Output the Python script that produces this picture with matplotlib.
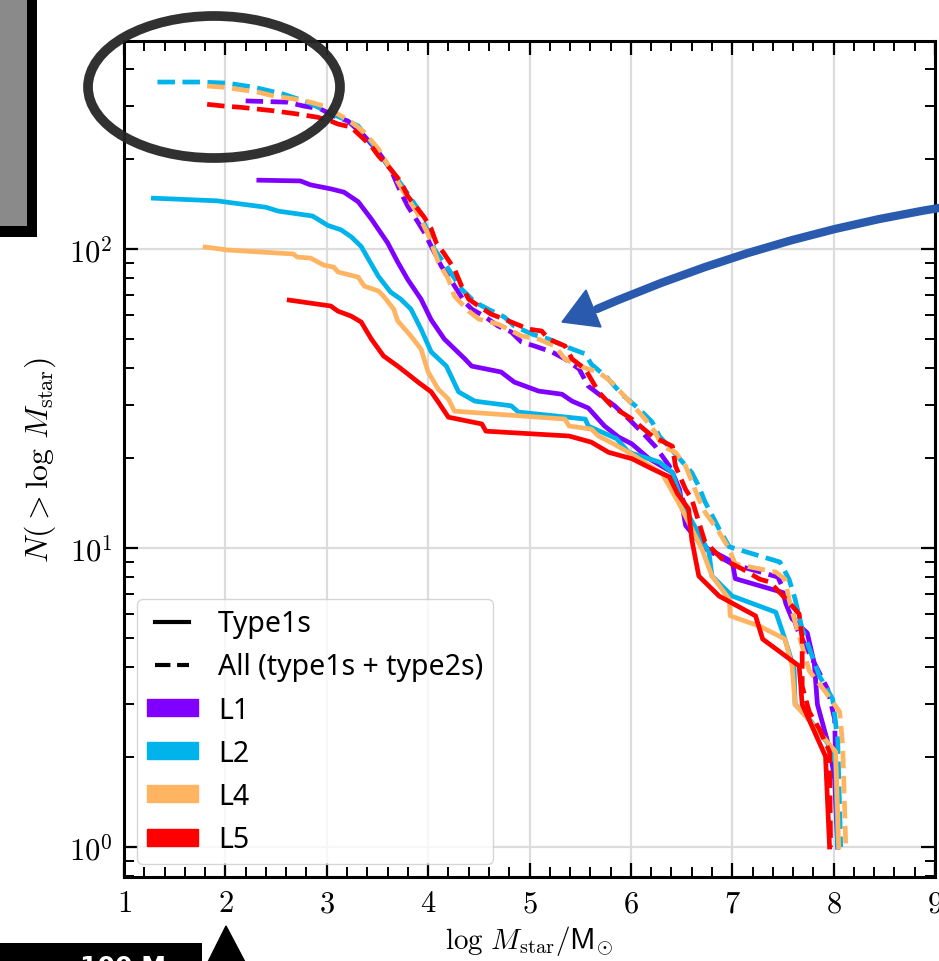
import numpy as np
import matplotlib
matplotlib.use("Agg")
import matplotlib.pyplot as plt
from matplotlib.lines import Line2D
from matplotlib.patches import Patch, Ellipse, Rectangle, Polygon, PathPatch
from matplotlib.path import Path
from matplotlib.ticker import FuncFormatter, MultipleLocator, LogLocator, NullFormatter

plt.rcParams['mathtext.fontset'] = 'cm'

# ---------------- data ----------------
levels = ['L1', 'L2', 'L4', 'L5']
colors = ['#8000FF', '#00B4EB', '#FFB462', '#FF0000']

# Type1s (solid)
L1_type1_x = [2.33, 2.74, 2.84, 3.04, 3.17, 3.31, 3.44, 3.60, 3.70, 3.80, 3.93, 4.03, 4.16, 4.36, 4.43,
              4.72, 4.85, 5.09, 5.32, 5.42, 5.58, 5.74, 5.88, 6.01, 6.18, 6.41, 6.48, 6.54, 6.70, 7.00,
              7.03, 7.50, 7.53, 7.59, 7.74, 7.81, 7.84, 7.96, 8.01, 8.04]
L1_type1_n = [170, 169, 164, 159, 155, 144, 126, 105, 90.5, 79, 68, 58, 50, 43, 40.6,
              38.8, 35.9, 33.5, 32.7, 31, 29.4, 25.6, 23.5, 22.3, 19.9, 17.9, 15.7, 11.9, 10.2, 9.0,
              7.9, 7.1, 6.5, 5.8, 5.2, 4.1, 3.0, 2.13, 1.69, 1.0]

L2_type1_x = [1.29, 1.92, 2.05, 2.40, 2.52, 2.86, 3.01, 3.14, 3.24, 3.34, 3.41, 3.51, 3.63, 3.73, 3.83,
              3.93, 4.03, 4.18, 4.30, 4.46, 4.82, 4.89, 5.55, 5.58, 5.86, 5.98, 6.28, 6.41, 6.51, 6.77,
              6.80, 7.00, 7.43, 7.52, 7.61, 7.62, 7.76, 7.96, 8.02, 8.04]
L2_type1_n = [148, 145, 143, 138, 134, 129, 120, 116, 110, 102, 92.7, 81, 71.8, 68, 63,
              54, 45.3, 40.6, 33.3, 31, 29.9, 28.5, 27, 25.6, 23.2, 20.9, 19.4, 17.9, 14, 9.7,
              8.06, 6.91, 6.1, 4.96, 3.94, 3.0, 2.68, 2.18, 1.9, 1.0]

L4_type1_x = [1.80, 2.02, 2.67, 2.71, 2.84, 2.97, 3.07, 3.11, 3.31, 3.37, 3.51, 3.56, 3.66, 3.70, 3.83,
              3.93, 4.00, 4.10, 4.20, 4.26, 5.35, 5.39, 5.61, 5.68, 5.83, 6.01, 6.16, 6.31, 6.48, 6.70,
              6.80, 6.97, 6.98, 7.27, 7.52, 7.59, 7.62, 7.79, 8.02, 8.05]
L4_type1_n = [101.6, 99.3, 96.3, 94, 93.3, 88.4, 87, 83.8, 80.6, 75.2, 72.4, 69.6, 63, 57.5, 51.2,
              46.3, 38.8, 34, 31.5, 28.7, 27, 25.6, 25, 23.7, 22.3, 20.6, 19.1, 17.7, 14, 9.93,
              8.06, 6.75, 5.93, 5.48, 4.96, 4.03, 3.0, 2.58, 2.08, 1.0]

L5_type1_x = [2.63, 3.04, 3.11, 3.24, 3.34, 3.44, 3.56, 3.70, 3.80, 3.90, 4.03, 4.10, 4.20, 4.53, 4.57,
              5.39, 5.61, 5.78, 6.01, 6.21, 6.38, 6.46, 6.57, 6.60, 6.67, 6.87, 7.23, 7.30, 7.66, 7.69,
              7.92, 7.96]
L5_type1_n = [67.5, 64.5, 62, 59.7, 57, 50, 43.9, 40.6, 38.2, 35.9, 33.3, 30.8, 27.4, 26, 24.6,
              23.7, 22.6, 20.9, 19.9, 18.4, 17.3, 15.2, 13.5, 10.7, 8.06, 6.91, 5.93, 4.96, 4.03, 3.0,
              2.01, 1.0]

# All (type1s + type2s) (dashed)
L1_all_x = [2.20, 2.61, 2.77, 2.94, 3.07, 3.21, 3.37, 3.51, 3.63, 3.73, 3.80, 3.90, 3.96, 4.06, 4.13,
            4.23, 4.36, 4.43, 4.55, 4.69, 4.82, 4.92, 5.05, 5.22, 5.35, 5.49, 5.58, 5.71, 5.84, 5.98,
            6.11, 6.24, 6.38, 6.51, 6.60, 6.70, 7.00, 7.45, 7.55, 7.64, 7.79, 7.94, 8.01, 8.04]
L1_all_n = [313, 310, 301, 294, 279, 268, 239, 211, 185, 155, 139, 123, 114, 97.7, 87.7,
            78.2, 66.5, 63, 59.7, 55.3, 52.8, 48.9, 47.4, 45.3, 42.9, 39.7, 34.8, 32.2, 29.9, 27,
            24.4, 21.9, 18.8, 14.6, 11.6, 10.1, 8.84, 8.0, 6.75, 5.36, 4.25, 3.38, 2.68, 1.0]

L2_all_x = [1.33, 1.75, 2.02, 2.28, 2.57, 2.81, 2.97, 3.17, 3.31, 3.44, 3.56, 3.70, 3.80, 3.90, 4.00,
            4.06, 4.20, 4.33, 4.46, 4.59, 4.75, 4.85, 5.02, 5.19, 5.37, 5.55, 5.61, 5.76, 5.91, 6.08,
            6.21, 6.28, 6.48, 6.60, 6.67, 6.73, 6.87, 6.97, 7.47, 7.56, 7.62, 7.69, 7.86, 7.99, 8.04,
            8.07]
L2_all_n = [362, 362, 359, 348, 330, 310, 292, 272, 258, 228, 200, 171, 153, 136, 114,
            100, 85.7, 73.5, 66.5, 63, 59.3, 55.3, 52, 50, 47, 44.6, 41.2, 37.3, 32.7, 29.2,
            26.4, 23.7, 19.9, 17.9, 16.1, 14.3, 11.6, 10.1, 8.98, 7.87, 6.75, 5.36, 3.73, 3.13, 2.3,
            1.0]

L4_all_x = [1.82, 1.98, 2.32, 2.48, 2.67, 2.84, 2.97, 3.11, 3.24, 3.37, 3.51, 3.63, 3.76, 3.90, 4.00,
            4.10, 4.20, 4.26, 4.40, 4.50, 4.69, 4.79, 4.92, 5.09, 5.25, 5.35, 5.49, 5.68, 5.81, 6.01,
            6.14, 6.24, 6.31, 6.44, 6.54, 6.67, 6.73, 6.87, 6.97, 7.03, 7.43, 7.52, 7.56, 7.59, 7.76,
            7.92, 8.06, 8.09, 8.12]
L4_all_n = [351, 348, 335, 325, 318, 310, 301, 283, 266, 246, 216, 185, 155, 131, 112,
            90.5, 79.4, 69.6, 62, 58.3, 56.1, 54, 51.2, 50, 47.4, 42.9, 40.6, 38.8, 35.9, 30.3,
            27, 24.4, 21.9, 20.9, 18.8, 14.6, 13.2, 11.3, 9.93, 8.84, 8.31, 7.87, 6.75, 6.15, 3.88,
            3.3, 2.83, 2.18, 1.0]

L5_all_x = [1.82, 1.98, 2.15, 2.48, 2.71, 2.91, 3.04, 3.11, 3.24, 3.31, 3.44, 3.51, 3.63, 3.73, 3.80,
            3.90, 3.96, 4.03, 4.08, 4.16, 4.26, 4.33, 4.40, 4.50, 4.62, 4.75, 4.99, 5.12, 5.19, 5.35,
            5.42, 5.55, 5.68, 5.81, 6.01, 6.21, 6.41, 6.44, 6.54, 6.60, 6.73, 6.90, 7.10, 7.27, 7.37,
            7.53, 7.66, 7.69, 7.69, 7.76, 7.86, 7.96, 7.97]
L5_all_n = [305, 301, 298, 290, 283, 276, 268, 262, 256, 243, 221, 205, 185, 168, 150,
            136, 128, 117, 105, 96.3, 85.7, 75.2, 68, 64.5, 60.6, 58.3, 54, 53.2, 50, 47.4,
            42.9, 39.7, 33.3, 29.9, 27, 23.7, 21.9, 18.8, 15.7, 14.6, 10.5, 9.19, 8.51, 7.87, 7.7,
            6.75, 6.02, 4.96, 3.45, 2.83, 2.48, 2.08, 1.0]

type1_series = [(L1_type1_x, L1_type1_n), (L2_type1_x, L2_type1_n),
                (L4_type1_x, L4_type1_n), (L5_type1_x, L5_type1_n)]
all_series = [(L1_all_x, L1_all_n), (L2_all_x, L2_all_n),
              (L4_all_x, L4_all_n), (L5_all_x, L5_all_n)]

legend_labels = ['Type1s', 'All (type1s + type2s)']
x_ticks = [1, 2, 3, 4, 5, 6, 7, 8, 9]

# ---------------- figure ----------------
W, H = 939, 962
fig = plt.figure(figsize=(W / 100, H / 100), dpi=100)

def fx(px):
    return px / W

def fy(py):
    return 1 - py / H

ax = fig.add_axes([fx(124), fy(878), (935 - 124) / W, (878 - 42) / H])

for (xs, ns), (xa, na), c in zip(type1_series, all_series, colors):
    ax.plot(xs, ns, color=c, lw=3.4, ls='-')
    ax.plot(xa, na, color=c, lw=3.4, ls='--')

ax.set_yscale('log')
ax.set_xlim(1, 9)
ax.set_ylim(10 ** -0.1003, 10 ** 2.696)

ax.set_xticks(x_ticks)
ax.xaxis.set_minor_locator(MultipleLocator(0.2))
ax.xaxis.set_major_formatter(FuncFormatter(lambda v, p: r'$%d$' % int(round(v))))
ax.yaxis.set_major_locator(LogLocator(base=10, numticks=10))
ax.yaxis.set_minor_locator(LogLocator(base=10, subs=np.arange(2, 10), numticks=20))
ax.yaxis.set_major_formatter(FuncFormatter(lambda v, p: r'$10^{%d}$' % int(round(np.log10(v)))))
ax.yaxis.set_minor_formatter(NullFormatter())

ax.tick_params(which='both', direction='in', top=True, right=True, labelsize=22)
ax.tick_params(which='major', length=10, width=1.6, pad=8)
ax.tick_params(which='minor', length=7, width=1.4)
for s in ax.spines.values():
    s.set_linewidth(2.2)

ax.grid(True, which='major', color='#dcdcdc', lw=1.6)
ax.set_axisbelow(True)

ax.set_xlabel(r'$\log\,M_{\rm star}/\mathsf{M}_{\odot}$', fontsize=21, labelpad=4)
ax.set_ylabel(r'$N(>\log\,M_{\rm star})$', fontsize=23, labelpad=8)

handles = [Line2D([], [], color='k', lw=3, ls='-'),
           Line2D([], [], color='k', lw=3, ls='--')]
handles += [Patch(facecolor=c, edgecolor=c) for c in colors]
labels = legend_labels + levels
leg = ax.legend(handles, labels, loc='lower left', numpoints=2,
                prop={'family': 'Noto Sans', 'size': 20.5}, borderaxespad=0.45,
                handlelength=1.8, handleheight=0.55, handletextpad=0.7,
                labelspacing=0.5, borderpad=0.35, framealpha=0.8)

# ---------------- slide annotations (overlay) ----------------
# grey box at top-left
fig.patches.append(Rectangle((fx(-20), fy(238)), fx(57), 258 / H, transform=fig.transFigure,
                             facecolor='black', edgecolor='none', zorder=5))
fig.patches.append(Rectangle((fx(-20), fy(227)), fx(47), 247 / H, transform=fig.transFigure,
                             facecolor='#8a8a8a', edgecolor='none', zorder=6))

# hand-drawn ellipse
fig.patches.append(Ellipse((fx(214), fy(88)), 252 / W, 142 / H, transform=fig.transFigure,
                           facecolor='none', edgecolor='#262626', lw=7, alpha=0.95, zorder=10))

# curved blue arrow
p0 = (fx(945), fy(208))
c0 = (fx(768), fy(236))
p2 = (fx(597), fy(310))
arrow_path = Path([p0, c0, p2], [Path.MOVETO, Path.CURVE3, Path.CURVE3])
fig.patches.append(PathPatch(arrow_path, transform=fig.transFigure, facecolor='none',
                             edgecolor='#2a5aad', lw=6, capstyle='round', zorder=10))
fig.patches.append(Polygon([(fx(562), fy(323)), (fx(586), fy(291)), (fx(601), fy(328))],
                           closed=True, transform=fig.transFigure, facecolor='#2a5aad',
                           edgecolor='#2a5aad', lw=1, zorder=11))

# black bar and triangle at bottom-left
fig.patches.append(Rectangle((fx(-5), fy(972)), fx(207), 28 / H, transform=fig.transFigure,
                             facecolor='black', edgecolor='none', zorder=10))
fig.text(fx(80), fy(955), '100 M', color='white', fontsize=18, fontweight='bold',
         va='top', ha='left', zorder=11)
fig.patches.append(Polygon([(fx(226), fy(927)), (fx(207), fy(965)), (fx(246), fy(965))],
                           closed=True, transform=fig.transFigure, facecolor='black',
                           edgecolor='black', zorder=10))

fig.savefig('out.png', dpi=100)
